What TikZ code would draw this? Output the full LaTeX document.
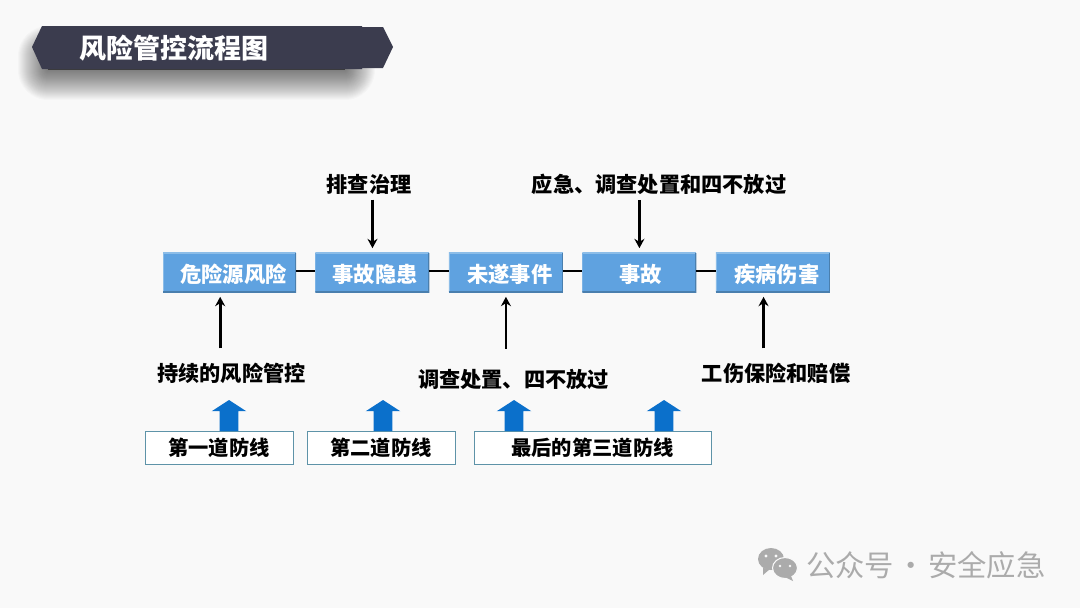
\documentclass[tikz,border=0pt]{standalone}
\usepackage{fontspec}
\setmainfont{Noto Sans CJK SC}
\usepackage{tikz}
\usetikzlibrary{arrows.meta,positioning,shapes.arrows}
\definecolor{paper}{HTML}{F9F9F9}
\definecolor{banner}{HTML}{3B3C4E}
\definecolor{boxblue}{HTML}{5FA2E0}
\definecolor{boxdark}{HTML}{4A7FAE}
\definecolor{boxlight}{HTML}{8CBDE8}
\definecolor{lineteal}{HTML}{5E93A8}
\definecolor{upblue}{HTML}{0B70CB}
\definecolor{markgray}{HTML}{ABABAB}

\begin{document}
\begin{tikzpicture}[x=.75pt, y=-.75pt, node distance=14.6pt, >=Stealth,
  riskbox/.style={fill=boxblue, inner sep=0pt, outer sep=0pt, minimum height=29.5pt, text height=17pt, text depth=2pt, text=white, font=\bfseries\fontsize{16}{16}\selectfont,
    path picture={
      \draw[boxlight, line width=1.5pt] (path picture bounding box.south west) |- (path picture bounding box.north east);
      \draw[boxdark, line width=1.5pt] (path picture bounding box.south west) -| (path picture bounding box.north east);}},
  measure/.style={inner sep=0pt, font=\bfseries\fontsize{15.9}{16}\selectfont},
  defence/.style={draw=lineteal, fill=white, inner sep=0pt, outer sep=0pt, minimum height=24.75pt, font=\bfseries\fontsize{15.2}{16}\selectfont},
  uparrow/.style={single arrow, fill=upblue, inner sep=6.75pt, outer sep=0pt, shape border rotate=90, minimum height=23.25pt,
    single arrow head extend=6pt, single arrow tip angle=114, anchor=tail},
  link/.style={line width=1.5pt, draw=black},
  point/.style={->, line width=2pt, shorten >=3.5pt, shorten <=4pt, >={Stealth[length=7pt,width=7.5pt]}}]
  % page and title bar
  \fill[paper] (0,0) rectangle (1080,608);
  \foreach \w in {2,4,...,60} \draw[black, opacity=.02, line width=\w*.75pt, line join=round, fill=black] (48,56) rectangle (345,70);
  \fill[banner] (32,47) -- (42,26) -- (362,26) -- (362,27) -- (383,27) -- (393,47) -- (383,68) -- (362,68) -- (362,69) -- (42,69) -- cycle;
  \node[text=white, inner sep=0pt, font=\bfseries\fontsize{20.25}{22}\selectfont] (title) at (174,48) {风险管控流程图};

  % risk chain
  \node[riskbox, minimum width=99.75pt, anchor=west, execute at begin node=\hspace*{6pt}] (hazard) at (163,272.5) {危险源风险};
  \node[riskbox, minimum width=85.5pt, right=of hazard, execute at begin node=\hspace*{4pt}] (hidden) {事故隐患};
  \node[riskbox, minimum width=85.5pt, right=of hidden, execute at begin node=\hspace*{6pt}] (nearmiss) {未遂事件};
  \node[riskbox, minimum width=85.5pt, right=of nearmiss, execute at begin node=\hspace*{2pt}] (accident) {事故};
  \node[riskbox, minimum width=85.5pt, right=of accident, execute at begin node=\hspace*{6pt}] (injury) {疾病伤害};
  \draw[link] ([yshift=1.5pt]hazard.east) -- ([yshift=1.5pt]hidden.west);
  \draw[link] ([yshift=1.5pt]hidden.east) -- ([yshift=1.5pt]nearmiss.west);
  \draw[link] ([yshift=1.5pt]nearmiss.east) -- ([yshift=1.5pt]accident.west);
  \draw[link] ([yshift=1.5pt]accident.east) -- ([yshift=1.5pt]injury.west);

  % measures
  \node[measure] (check) at (369,184) {排查治理};
  \node[measure] (respond) at (659,184) {应急、调查处置和四不放过};
  \node[measure] (control) at (231.5,373) {持续的风险管控};
  \node[measure] (probe) at (513.5,379) {调查处置、四不放过};
  \node[measure] (insure) at (776,373) {工伤保险和赔偿};
  \draw[point] (hidden.north |- check.south) -- (hidden.north);
  \draw[point] (accident.north |- respond.south) -- (accident.north);
  \draw[point, shorten <=10.5pt] ([xshift=-7pt]hazard.south |- control.north) -- ([xshift=-7pt]hazard.south);
  \draw[point, shorten <=15pt] (nearmiss.south |- probe.north) -- (nearmiss.south);
  \draw[point, shorten <=10.5pt] ([xshift=-7pt]injury.south |- insure.north) -- ([xshift=-7pt]injury.south);

  % lines of defence
  \node[defence, minimum width=111pt] (first) at (219,447.5) {第一道防线};
  \node[defence, minimum width=111pt] (second) at (381,447.5) {第二道防线};
  \node[defence, minimum width=177.75pt] (third) at (592.5,447.5) {最后的第三道防线};
  \node[uparrow] (firstup) at (229,431) {};
  \node[uparrow] (secondup) at (383,431) {};
  \node[uparrow] (thirdup) at (514,431) {};
  \node[uparrow] (lastup) at (664,431) {};

  % watermark
  \fill[markgray] (771,559) ellipse (13 and 11);
  \fill[markgray] (763,568) -- (763,575) -- (770,569) -- cycle;
  \fill[markgray, draw=paper, line width=.8pt] (785,568) ellipse (12.5 and 10.5);
  \fill[markgray] (791,576) -- (793,581) -- (785,577) -- cycle;
  \fill[paper] (766,556) circle (1.6) (776,556) circle (1.6) (780,566) circle (1.4) (790,566) circle (1.4);
  \node[text=markgray, inner sep=0pt, anchor=west, font=\fontsize{22}{24}\selectfont] (mark) at (806,565) {公众号\hspace{1.7pt}·\hspace{1.7pt}安全应急};
\end{tikzpicture}
\end{document}
